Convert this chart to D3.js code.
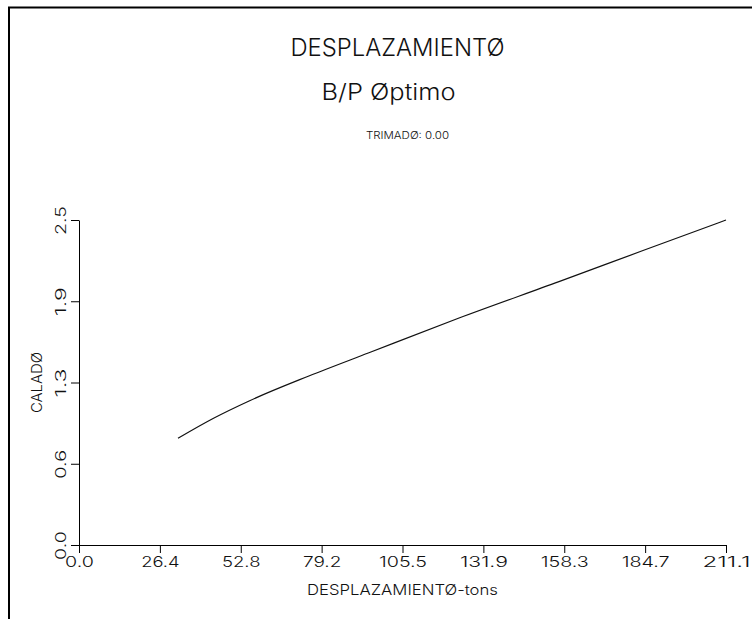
<!DOCTYPE html>
<html>
<head>
<meta charset="utf-8">
<script src="https://cdn.jsdelivr.net/npm/d3@7"></script>
<style>
  html, body { margin: 0; padding: 0; background: #fff; }
  svg { display: block; }
  text { font-family: Inter, "DejaVu Sans", sans-serif; font-weight: 300; fill: #111; }
</style>
</head>
<body>
<svg id="chart" width="755" height="619"></svg>
<script>
// ---- data ----
const displacement = [32.3, 43.9, 55.5, 75.0, 94.6, 124.0, 156.6, 183.8, 211.1];
const draft        = [0.821, 0.975, 1.108, 1.300, 1.479, 1.746, 2.026, 2.263, 2.5];

const xTickValues = [0, 26.3875, 52.775, 79.1625, 105.55, 131.9375, 158.325, 184.7125, 211.1];
const xTickLabels = ["0.0", "26.4", "52.8", "79.2", "105.5", "131.9", "158.3", "184.7", "211.1"];
const yTickValues = [0, 0.625, 1.25, 1.875, 2.5];
const yTickLabels = ["0.0", "0.6", "1.3", "1.9", "2.5"];

const titleText = "DESPLAZAMIENTØ";
const subtitleText = "B/P Øptimo";
const trimText = "TRIMADØ: 0.00";
const xAxisTitle = "DESPLAZAMIENTØ-tons";
const yAxisTitle = "CALADØ";

// ---- layout ----
const svg = d3.select("#chart");
const x = d3.scaleLinear().domain([0, 211.1]).range([79, 726]);
const y = d3.scaleLinear().domain([0, 2.5]).range([545, 220]);

// frame
svg.append("path")
  .attr("d", "M9,619 V7.5 H752")
  .attr("fill", "none").attr("stroke", "#000").attr("stroke-width", 2);

function addText(parent, str, px, py, size, pitch, rotate) {
  const t = parent.append("text")
    .attr("text-anchor", "middle")
    .attr("font-size", size)
    .attr("textLength", str.length * pitch)
    .attr("lengthAdjust", "spacingAndGlyphs")
    .text(str);
  if (rotate) t.attr("transform", `translate(${px},${py}) rotate(-90)`);
  else t.attr("x", px).attr("y", py);
  return t;
}

// titles
addText(svg, titleText, 397.5, 56, 23.5, 15.3, false);
addText(svg, subtitleText, 388.5, 100, 22.5, 13.4, false);
addText(svg, trimText, 407.5, 139, 10, 6.4, false);

// axes
const xAxis = d3.axisBottom(x).tickValues(xTickValues)
  .tickFormat((d, i) => xTickLabels[i]).tickSize(8).tickSizeOuter(0);
const gx = svg.append("g").attr("transform", "translate(0,545)").call(xAxis);
gx.selectAll("path, line").attr("stroke", "#000").attr("stroke-width", 1);
gx.selectAll("text")
  .attr("y", 22).attr("dy", null)
  .attr("font-size", 14).attr("font-family", null).attr("fill", "#111")
  .attr("textLength", function() { return this.textContent.length * 9.6; })
  .attr("lengthAdjust", "spacingAndGlyphs");

const yAxis = d3.axisLeft(y).tickValues(yTickValues)
  .tickFormat((d, i) => yTickLabels[i]).tickSize(8).tickSizeOuter(0);
const gy = svg.append("g").attr("transform", "translate(79,0)").call(yAxis);
gy.selectAll("path, line").attr("stroke", "#000").attr("stroke-width", 1);
gy.selectAll("text")
  .attr("transform", "rotate(-90)")
  .attr("x", 0).attr("y", -13).attr("dy", null)
  .attr("text-anchor", "middle")
  .attr("font-size", 14).attr("font-family", null).attr("fill", "#111")
  .attr("textLength", function() { return this.textContent.length * 9.6; })
  .attr("lengthAdjust", "spacingAndGlyphs");

// axis titles
addText(svg, xAxisTitle, 402.5, 595, 14.5, 10.05, false);
addText(svg, yAxisTitle, 42, 382.5, 14.5, 10.2, true);

// curve
const line = d3.line()
  .x((d, i) => x(displacement[i]))
  .y((d, i) => y(draft[i]))
  .curve(d3.curveMonotoneX);
svg.append("path")
  .datum(draft)
  .attr("d", line)
  .attr("fill", "none")
  .attr("stroke", "#111")
  .attr("stroke-width", 1.2);
</script>
</body>
</html>
